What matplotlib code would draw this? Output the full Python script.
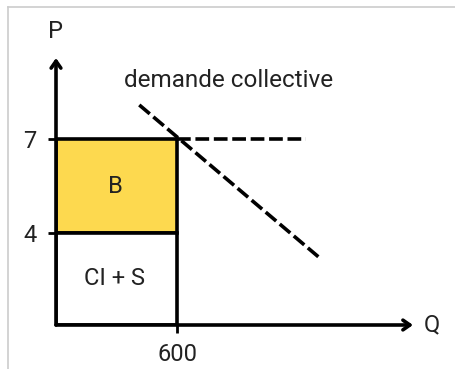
import matplotlib
matplotlib.use('Agg')
import matplotlib.pyplot as plt
from matplotlib.lines import Line2D
from matplotlib.patches import Rectangle

# values read from the schematic
q_eq = 600
p_high = 7
p_low = 4
tick_q = [600]
tick_p = [4, 7]
demand_q = [412, 1305]
demand_p = [8.09, 3.2]
price_line_q = [600, 1235]
label_B = 'B'
label_CIS = 'CI + S'
label_demand = 'demande collective'

plt.rcParams['font.family'] = ['Roboto', 'DejaVu Sans']
txt = '#222222'

fig = plt.figure(figsize=(4.56, 3.69), dpi=100)
fig.patch.set_facecolor('white')
W, H = 456, 369
x0, x1 = 56, 413
y0, y1 = 325, 58
ax = fig.add_axes([x0 / W, 1 - y0 / H, (x1 - x0) / W, (y0 - y1) / H])
xmax, ymin, ymax = 1766, 1.06, 9.59
ax.set_xlim(0, xmax)
ax.set_ylim(ymin, ymax)
for s in ax.spines.values():
    s.set_visible(False)

lw = 2.6
dash = (0, (3.8, 1.3))
# areas
ax.add_patch(Rectangle((0, p_low), q_eq, p_high - p_low, facecolor='#fdd94f',
                       edgecolor='black', lw=lw, zorder=2))
ax.add_patch(Rectangle((0, ymin), q_eq, p_low - ymin, facecolor='white',
                       edgecolor='black', lw=lw, zorder=2))

# dashed lines
ax.plot(price_line_q, [p_high, p_high], ls=dash, color='black', lw=lw, zorder=3)
ax.plot(demand_q, demand_p, ls=dash, color='black', lw=lw, zorder=3)

# axes arrows
arrow = dict(arrowstyle='->,head_length=0.5,head_width=0.35', lw=lw, color='black',
             shrinkA=0, shrinkB=0)
ax.annotate('', xy=(xmax, ymin), xytext=(0, ymin), arrowprops=arrow,
            annotation_clip=False, zorder=4)
ax.annotate('', xy=(0, ymax), xytext=(0, ymin), arrowprops=arrow,
            annotation_clip=False, zorder=4)

ax.set_xticks(tick_q)
ax.set_yticks(tick_p)
ax.set_xticklabels([str(v) for v in tick_q])
ax.set_yticklabels([str(v) for v in tick_p])
ax.tick_params(axis='both', length=6, width=2, direction='out', labelsize=17,
               color='black', labelcolor=txt)
ax.tick_params(axis='x', pad=7)
ax.tick_params(axis='y', pad=8)

ax.text(292, 5.5, label_B, ha='center', va='center', fontsize=17, color=txt, zorder=5)
ax.text(287, 2.56, label_CIS, ha='center', va='center', fontsize=17, color=txt, zorder=5)
ax.text(xmax + 95, ymin, 'Q', ha='center', va='center', fontsize=17, color=txt, clip_on=False)
ax.text(0, ymax + 0.85, 'P', ha='center', va='center', fontsize=17, color=txt, clip_on=False)
ax.text(337, 8.88, label_demand, ha='left', va='center', fontsize=17.5, color=txt, clip_on=False)

# screenshot border
fig.add_artist(Line2D([8 / W, 1], [1 - 7 / H, 1 - 7 / H], color='#cccccc', lw=1.2))
fig.add_artist(Line2D([8 / W, 8 / W], [0, 1 - 7 / H], color='#cccccc', lw=1.2))

fig.savefig('out.png', dpi=100, facecolor='white')
